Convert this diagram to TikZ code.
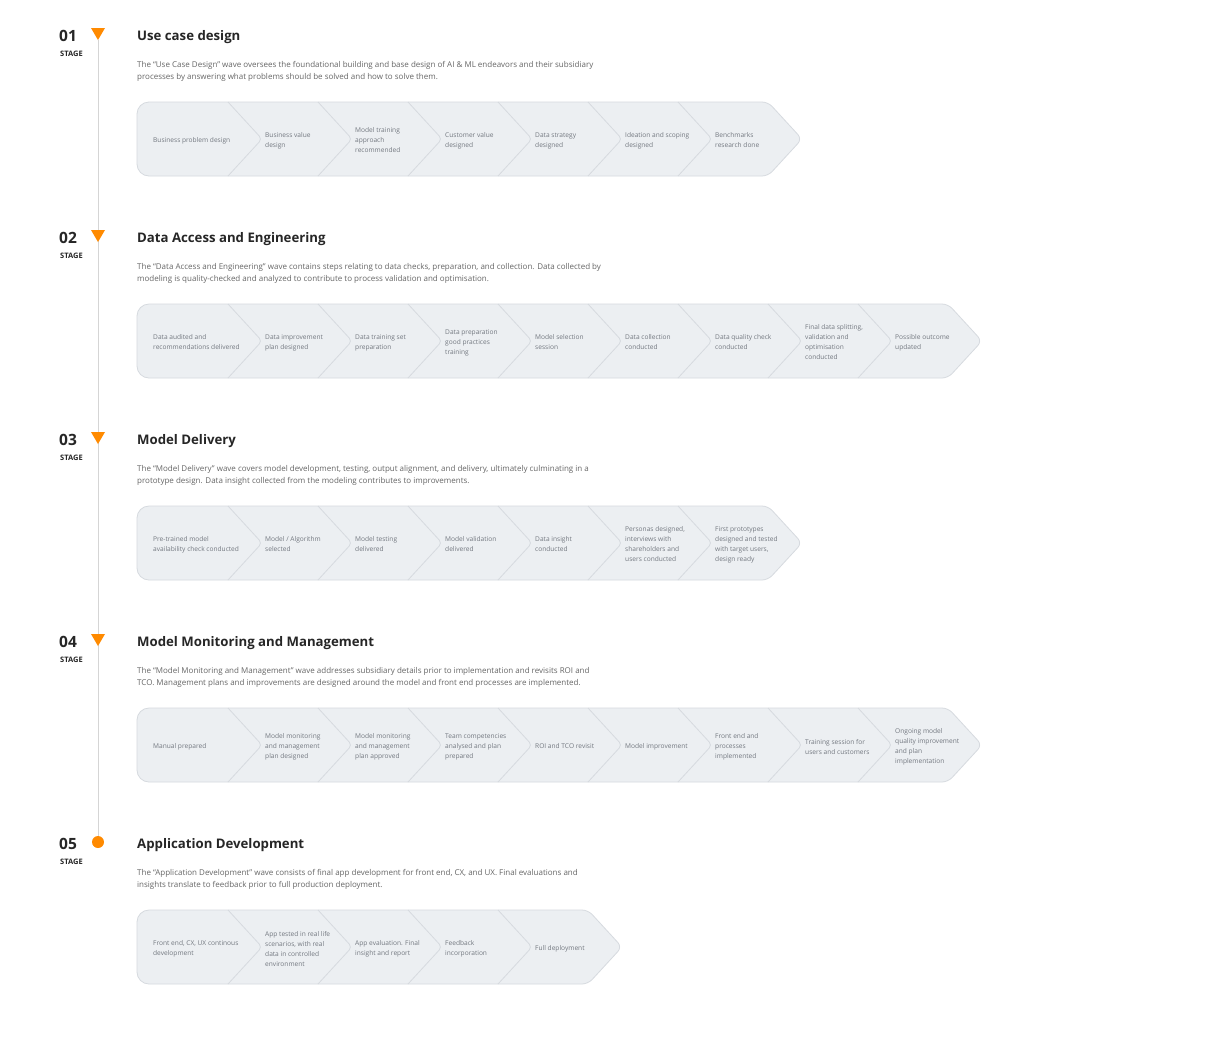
\documentclass[tikz,border=0pt]{standalone}
\usepackage{fontspec}
\setmainfont{Open Sans}
\usetikzlibrary{positioning}

\definecolor{StageOrange}{HTML}{FF8A00}
\definecolor{StripFill}{HTML}{ECEFF2}
\definecolor{StripEdge}{HTML}{D6DADF}
\definecolor{StepText}{HTML}{737880}
\definecolor{BodyText}{HTML}{666666}
\definecolor{HeadText}{HTML}{262626}
\definecolor{TrackLine}{HTML}{D5D5D5}

\begin{document}
\begin{tikzpicture}[x=1pt,y=-1pt,
		stagenum/.style={anchor=base west,inner sep=0pt,font=\fontsize{15.5}{15.5}\selectfont\bfseries,text=HeadText},
		stagetag/.style={anchor=base west,inner sep=0pt,font=\fontsize{7.5}{8}\selectfont\bfseries,text=HeadText},
		stagetitle/.style={anchor=base west,inner sep=0pt,font=\fontsize{13.2}{14}\selectfont\bfseries,text=HeadText},
		stagetext/.style={anchor=north west,inner sep=0pt,align=left,font=\fontsize{8}{12}\selectfont,text=BodyText},
		steptext/.style={anchor=west,inner sep=0pt,align=left,font=\fontsize{6.6}{10}\selectfont,text=StepText},
		strip/.style={fill=StripFill,draw=StripEdge,line width=0.8pt},
		divider/.style={draw=StripEdge,line width=0.8pt,rounded corners=4pt},
		marker/.style={fill=StageOrange,draw=none},
		track/.style={draw=TrackLine,line width=1pt}]
	\pgfmathsetmacro{\StripLeft}{137}
	\pgfmathsetmacro{\StepWidth}{90}
	\pgfmathsetmacro{\TipDepth}{34}
	\path[fill=white,use as bounding box] (0,0) rectangle (1217,1061);
	
	% timeline
	\coordinate (TrackTop) at (98,40);
	\coordinate (TrackEnd) at (98,842);
	\draw[track] (TrackTop) -- (TrackEnd);
	\foreach \y in {0,202,404,606}
		\fill[marker] (91,\y+28) -- (105,\y+28) -- (98,\y+40) -- cycle;
	\fill[marker] (TrackEnd) circle (6pt);
	
	% stage headers
	\node[stagenum] (num1) at (59,41) {01};
	\node[stagetag] (tag1) at (60,56) {STAGE};
	\node[stagetitle] (head1) at (137,40) {Use case design};
	\node[stagetext] (desc1) at (137,61) {The “Use Case Design” wave oversees the foundational building and base design of AI \& ML endeavors and their subsidiary\\processes by answering what problems should be solved and how to solve them.};
	
	\node[stagenum] (num2) at (59,243) {02};
	\node[stagetag] (tag2) at (60,258) {STAGE};
	\node[stagetitle] (head2) at (137,242) {Data Access and Engineering};
	\node[stagetext] (desc2) at (137,263) {The “Data Access and Engineering” wave contains steps relating to data checks, preparation, and collection. Data collected by\\modeling is quality-checked and analyzed to contribute to process validation and optimisation.};
	
	\node[stagenum] (num3) at (59,445) {03};
	\node[stagetag] (tag3) at (60,460) {STAGE};
	\node[stagetitle] (head3) at (137,444) {Model Delivery};
	\node[stagetext] (desc3) at (137,465) {The “Model Delivery” wave covers model development, testing, output alignment, and delivery, ultimately culminating in a\\prototype design. Data insight collected from the modeling contributes to improvements.};
	
	\node[stagenum] (num4) at (59,647) {04};
	\node[stagetag] (tag4) at (60,662) {STAGE};
	\node[stagetitle] (head4) at (137,646) {Model Monitoring and Management};
	\node[stagetext] (desc4) at (137,667) {The “Model Monitoring and Management” wave addresses subsidiary details prior to implementation and revisits ROI and\\TCO. Management plans and improvements are designed around the model and front end processes are implemented.};
	
	\node[stagenum] (num5) at (59,849) {05};
	\node[stagetag] (tag5) at (60,864) {STAGE};
	\node[stagetitle] (head5) at (137,848) {Application Development};
	\node[stagetext] (desc5) at (137,869) {The “Application Development” wave consists of final app development for front end, CX, and UX. Final evaluations and\\insights translate to feedback prior to full production deployment.};
	
	% chevron strips
	\foreach \y/\n in {0/7,202/9,404/7,606/9,808/5}{
		\pgfmathsetmacro{\EndTop}{\StripLeft+91+\StepWidth*(\n-1)}
		\pgfmathtruncatemacro{\Last}{\n-1}
		\draw[strip] (200,\y+102) [rounded corners=6pt] -- (\EndTop,\y+102) -- (\EndTop+\TipDepth,\y+139) -- (\EndTop,\y+176) -- (200,\y+176) [rounded corners=12pt] -- (\StripLeft,\y+176) -- (\StripLeft,\y+102) -- cycle;
		\foreach \i in {1,...,\Last}{
			\pgfmathsetmacro{\Sx}{\StripLeft+1+\StepWidth*\i}
			\draw[divider] (\Sx,\y+102) -- (\Sx+\TipDepth,\y+139) -- (\Sx,\y+176);
		}
	}
	
	% steps
	\foreach \txt [count=\i from 0] in {{Business problem design}, {Business value\\design}, {Model training\\approach\\recommended}, {Customer value\\designed}, {Data strategy\\designed}, {Ideation and scoping\\designed}, {Benchmarks\\research done}}
		\node[steptext] (use\i) at ({\i==0 ? 153 : 175+90*\i},140.5) {\txt};
	\foreach \txt [count=\i from 0] in {{Data audited and\\recommendations delivered}, {Data improvement\\plan designed}, {Data training set\\preparation}, {Data preparation\\good practices\\training}, {Model selection\\session}, {Data collection\\conducted}, {Data quality check\\conducted}, {Final data splitting,\\validation and\\optimisation\\conducted}, {Possible outcome\\updated}}
		\node[steptext] (data\i) at ({\i==0 ? 153 : 175+90*\i},342.5) {\txt};
	\foreach \txt [count=\i from 0] in {{Pre-trained model\\availability check conducted}, {Model / Algorithm\\selected}, {Model testing\\delivered}, {Model validation\\delivered}, {Data insight\\conducted}, {Personas designed,\\interviews with\\shareholders and\\users conducted}, {First prototypes\\designed and tested\\with target users,\\design ready}}
		\node[steptext] (deliv\i) at ({\i==0 ? 153 : 175+90*\i},544.5) {\txt};
	\foreach \txt [count=\i from 0] in {{Manual prepared}, {Model monitoring\\and management\\plan designed}, {Model monitoring\\and management\\plan approved}, {Team competencies\\analysed and plan\\prepared}, {ROI and TCO revisit}, {Model improvement}, {Front end and\\processes\\implemented}, {Training session for\\users and customers}, {Ongoing model\\quality improvement\\and plan\\implementation}}
		\node[steptext] (monit\i) at ({\i==0 ? 153 : 175+90*\i},746.5) {\txt};
	\foreach \txt [count=\i from 0] in {{Front end, CX, UX continous\\development}, {App tested in real life\\scenarios, with real\\data in controlled\\environment}, {App evaluation. Final\\insight and report}, {Feedback\\incorporation}, {Full deployment}}
		\node[steptext] (app\i) at ({\i==0 ? 153 : 175+90*\i},948.5) {\txt};
\end{tikzpicture}
\end{document}
